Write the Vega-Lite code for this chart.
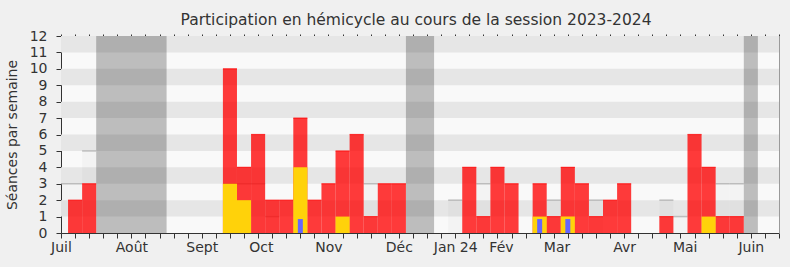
{
  "$schema": "https://vega.github.io/schema/vega-lite/v6.json",
  "width": 718,
  "height": 197,
  "autosize": {"type": "none"},
  "padding": {"left": 61, "top": 36, "right": 11, "bottom": 34},
  "background": "#f0f0f0",
  "title": {
    "text": "Participation en hémicycle au cours de la session 2023-2024",
    "frame": "group",
    "anchor": "middle",
    "dx": -4,
    "offset": 1,
    "font": "DejaVu Sans",
    "fontSize": 15.5,
    "fontWeight": "normal",
    "color": "#333333"
  },
  "datasets": {
    "bandes": [
      {"bas": 1, "haut": 2},
      {"bas": 3, "haut": 4},
      {"bas": 5, "haut": 6},
      {"bas": 7, "haut": 8},
      {"bas": 9, "haut": 10},
      {"bas": 11, "haut": 12}
    ],
    "vacances": [
      {"debut": 2.5, "fin": 7.5},
      {"debut": 24.5, "fin": 26.5},
      {"debut": 48.5, "fin": 49.5}
    ],
    "semaines": [
      {"semaine": 0, "mediane": 3},
      {"semaine": 1, "hemicycle": 2, "mediane": 3},
      {"semaine": 2, "hemicycle": 3, "mediane": 5},
      {"semaine": 12, "hemicycle": 10, "interventions": 3, "mediane": 3},
      {"semaine": 13, "hemicycle": 4, "interventions": 2, "mediane": 3},
      {"semaine": 14, "hemicycle": 6, "mediane": 3},
      {"semaine": 15, "hemicycle": 2, "mediane": 1},
      {"semaine": 16, "hemicycle": 2},
      {"semaine": 17, "hemicycle": 7, "interventions": 4, "questions": 0.85},
      {"semaine": 18, "hemicycle": 2},
      {"semaine": 19, "hemicycle": 3},
      {"semaine": 20, "hemicycle": 5, "interventions": 1},
      {"semaine": 21, "hemicycle": 6},
      {"semaine": 22, "hemicycle": 1, "mediane": 3},
      {"semaine": 23, "hemicycle": 3},
      {"semaine": 24, "hemicycle": 3},
      {"semaine": 28, "mediane": 2},
      {"semaine": 29, "hemicycle": 4},
      {"semaine": 30, "hemicycle": 1, "mediane": 3},
      {"semaine": 31, "hemicycle": 4},
      {"semaine": 32, "hemicycle": 3},
      {"semaine": 34, "hemicycle": 3, "interventions": 1, "questions": 0.85},
      {"semaine": 35, "hemicycle": 1, "mediane": 2},
      {"semaine": 36, "hemicycle": 4, "interventions": 1, "questions": 0.85},
      {"semaine": 37, "hemicycle": 3},
      {"semaine": 38, "hemicycle": 1, "mediane": 2},
      {"semaine": 39, "hemicycle": 2},
      {"semaine": 40, "hemicycle": 3},
      {"semaine": 43, "hemicycle": 1, "mediane": 2},
      {"semaine": 44, "mediane": 1},
      {"semaine": 45, "hemicycle": 6},
      {"semaine": 46, "hemicycle": 4, "interventions": 1},
      {"semaine": 47, "hemicycle": 1, "mediane": 3},
      {"semaine": 48, "hemicycle": 1, "mediane": 3}
    ]
  },
  "layer": [
    {
      "data": {"name": "bandes"},
      "mark": {"type": "rect", "color": "#e6e6e6"},
      "encoding": {
        "y": {
          "field": "bas",
          "type": "quantitative",
          "scale": {"domain": [0, 12], "nice": false, "zero": true, "padding": 0},
          "axis": {
            "orient": "left",
            "values": [0, 1, 2, 3, 4, 5, 6, 7, 8, 9, 10, 11, 12],
            "tickSize": 5,
            "labelPadding": 9,
            "labelFlush": false,
            "labelOverlap": false,
            "title": "Séances par semaine",
            "titleX": -49,
            "titleBaseline": "middle"
          }
        },
        "y2": {"field": "haut"}
      }
    },
    {
      "data": {"name": "vacances"},
      "mark": {"type": "rect", "color": "#000000", "opacity": 0.24},
      "encoding": {
        "x": {
          "field": "debut",
          "type": "quantitative",
          "scale": {"domain": [0, 51], "nice": false, "zero": false, "padding": 0},
          "axis": null
        },
        "x2": {"field": "fin"}
      }
    },
    {
      "data": {"name": "semaines"},
      "transform": [{"filter": "datum.mediane > 0"}],
      "mark": {"type": "bar", "orient": "vertical", "width": 14.078, "color": "#000000", "opacity": 0.025, "clip": true},
      "encoding": {
        "x": {"field": "semaine", "type": "quantitative", "axis": null},
        "y": {
          "field": "mediane",
          "type": "quantitative",
          "stack": null,
          "axis": {"orient": "right", "labels": false, "ticks": false, "domain": true, "domainColor": "#9a9a9a", "title": null}
        }
      }
    },
    {
      "data": {"name": "semaines"},
      "transform": [{"filter": "datum.mediane > 0"}],
      "mark": {"type": "tick", "orient": "horizontal", "size": 14.078, "thickness": 1.5, "color": "#a8a8a8", "clip": true},
      "encoding": {
        "x": {
          "field": "semaine",
          "type": "quantitative",
          "axis": {
            "orient": "bottom",
            "values": [0, 5, 10, 14.2, 19, 24, 28, 31.25, 35.2, 40, 44.3, 49],
            "labelExpr": "datum.value == 0 ? 'Juil' : datum.value == 5 ? 'Août' : datum.value == 10 ? 'Sept' : datum.value == 14.2 ? 'Oct' : datum.value == 19 ? 'Nov' : datum.value == 24 ? 'Déc' : datum.value == 28 ? 'Jan 24' : datum.value == 31.25 ? 'Fév' : datum.value == 35.2 ? 'Mar' : datum.value == 40 ? 'Avr' : datum.value == 44.3 ? 'Mai' : 'Juin'",
            "ticks": false,
            "domain": false,
            "labelPadding": 7,
            "labelFlush": false,
            "labelOverlap": false,
            "title": null
          }
        },
        "y": {"field": "mediane", "type": "quantitative", "axis": null}
      }
    },
    {
      "data": {"name": "semaines"},
      "transform": [{"filter": "datum.hemicycle > 0"}],
      "mark": {"type": "bar", "orient": "vertical", "width": 14.078, "color": "#ff0000", "opacity": 0.77},
      "encoding": {
        "x": {
          "field": "semaine",
          "type": "quantitative",
          "axis": {
            "orient": "bottom",
            "values": [0, 1, 2, 3, 4, 5, 6, 7, 8, 9, 10, 11, 12, 13, 14, 15, 16, 17, 18, 19, 20, 21, 22, 23, 24, 25, 26, 27, 28, 29, 30, 31, 32, 33, 34, 35, 36, 37, 38, 39, 40, 41, 42, 43, 44, 45, 46, 47, 48, 49, 50, 51],
            "labels": false,
            "tickSize": 5,
            "domain": true,
            "title": null
          }
        },
        "y": {"field": "hemicycle", "type": "quantitative", "stack": null, "axis": null}
      }
    },
    {
      "data": {"name": "semaines"},
      "transform": [{"filter": "datum.hemicycle > 0"}],
      "mark": {"type": "tick", "orient": "horizontal", "size": 14.078, "thickness": 1.2, "color": "#ff0000"},
      "encoding": {
        "x": {"field": "semaine", "type": "quantitative", "axis": null},
        "y": {"field": "hemicycle", "type": "quantitative", "axis": null}
      }
    },
    {
      "data": {"name": "semaines"},
      "transform": [{"filter": "datum.interventions > 0"}],
      "mark": {"type": "bar", "orient": "vertical", "width": 14.078, "color": "#ffd20a"},
      "encoding": {
        "x": {
          "field": "semaine",
          "type": "quantitative",
          "axis": {
            "orient": "top",
            "values": [0, 1, 2, 3, 4, 5, 6, 7, 8, 9, 10, 11, 12, 13, 14, 15, 16, 17, 18, 19, 20, 21, 22, 23, 24, 25, 26, 27, 28, 29, 30, 31, 32, 33, 34, 35, 36, 37, 38, 39, 40, 41, 42, 43, 44, 45, 46, 47, 48, 49, 50, 51],
            "labels": false,
            "tickSize": 2,
            "domain": false,
            "title": null
          }
        },
        "y": {"field": "interventions", "type": "quantitative", "stack": null, "axis": null}
      }
    },
    {
      "data": {"name": "semaines"},
      "transform": [{"filter": "datum.questions > 0"}],
      "mark": {"type": "bar", "orient": "vertical", "width": 5, "color": "#6666ff"},
      "encoding": {
        "x": {"field": "semaine", "type": "quantitative", "axis": null},
        "y": {"field": "questions", "type": "quantitative", "stack": null, "axis": null}
      }
    }
  ],
  "resolve": {"axis": {"x": "independent", "y": "independent"}},
  "config": {
    "view": {"stroke": null, "fill": "#f9f9f9"},
    "axis": {
      "grid": false,
      "labelFont": "DejaVu Sans",
      "titleFont": "DejaVu Sans",
      "labelFontSize": 14,
      "titleFontSize": 14,
      "titleFontWeight": "normal",
      "labelColor": "#333333",
      "titleColor": "#333333",
      "tickColor": "#333333",
      "domainColor": "#333333"
    }
  }
}
